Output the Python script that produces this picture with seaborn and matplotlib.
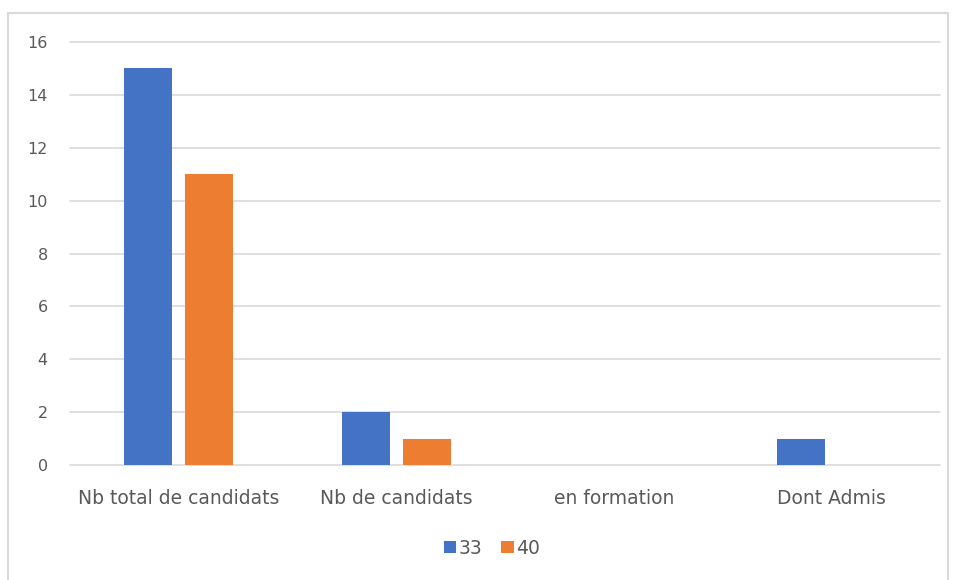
import pandas as pd
import matplotlib
matplotlib.use("Agg")
import matplotlib.pyplot as plt
import seaborn as sns

# data
categories = ["Nb total de candidats", "Nb de candidats", "en formation", "Dont Admis"]
serie_33 = [15, 2, 0, 1]
serie_40 = [11, 1, 0, 0]
series_names = ["33", "40"]

df = pd.DataFrame({
    "categorie": categories * 2,
    "valeur": serie_33 + serie_40,
    "serie": [series_names[0]] * 4 + [series_names[1]] * 4,
})

sns.set_style("white")
plt.rcParams["font.family"] = ["DejaVu Sans"]

fig = plt.figure(figsize=(9.56, 5.8), dpi=100)
ax = fig.add_axes([70 / 956, 1 - 465 / 580, 870 / 956, 423 / 580])

sns.barplot(data=df, x="categorie", y="valeur", hue="serie",
            palette=["#4472C4", "#ED7D31"], saturation=1, width=0.56, gap=0.21,
            order=categories, ax=ax, zorder=3, linewidth=0)

ax.set_ylim(0, 16)
ax.set_yticks(range(0, 17, 2))
ax.set_xlim(-0.5, 3.5)
ax.grid(axis="y", color="#D9D9D9", linewidth=1.2, zorder=0)
for gl in ax.get_ygridlines():
    gl.set_clip_on(False)
for s in ax.spines.values():
    s.set_visible(False)
ax.tick_params(axis="both", length=0, colors="#595959")
ax.tick_params(axis="y", pad=16, labelsize=11.5)
ax.tick_params(axis="x", pad=17, labelsize=13.5)
ax.set_xlabel("")
ax.set_ylabel("")

ax.legend(loc="center", bbox_to_anchor=(492 / 956, 1 - 548 / 580),
          bbox_transform=fig.transFigure, ncol=2, frameon=False,
          handlelength=0.65, handleheight=0.65, handletextpad=0.15,
          columnspacing=1.0, fontsize=13.5, labelcolor="#595959")

# outer chart border
fig.patches.append(plt.Rectangle((8 / 956, -0.02), 940 / 956, 1 - 13 / 580 + 0.02,
                                 transform=fig.transFigure, fill=False,
                                 edgecolor="#D9D9D9", linewidth=1.5))

fig.savefig("out.png", dpi=100)
